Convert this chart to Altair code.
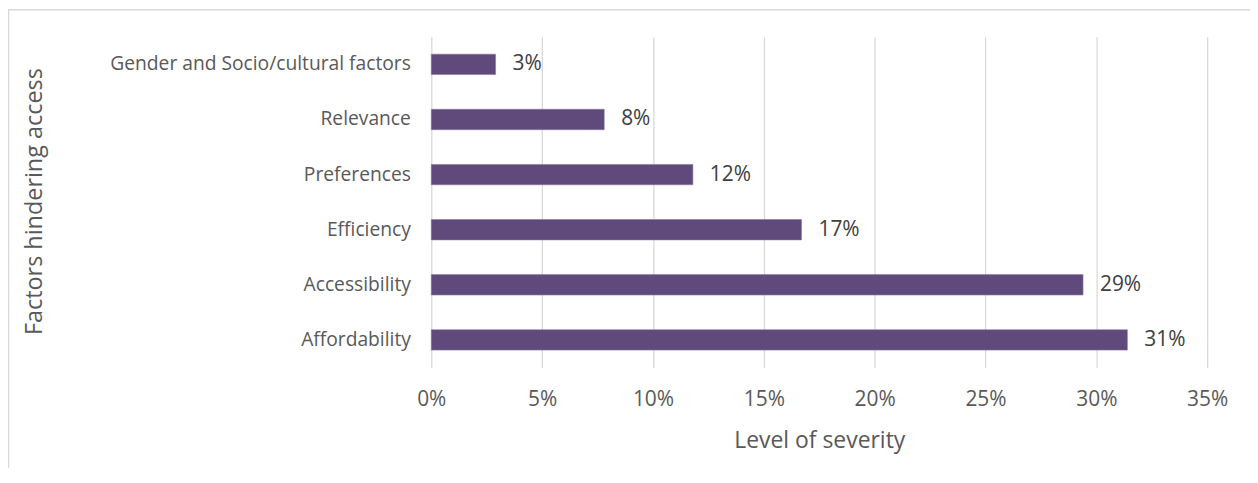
import altair as alt
import pandas as pd

categories = ["Gender and Socio/cultural factors", "Relevance", "Preferences",
              "Efficiency", "Accessibility", "Affordability"]
values = [0.029, 0.078, 0.118, 0.167, 0.294, 0.314]
x_ticks = [0, 0.05, 0.10, 0.15, 0.20, 0.25, 0.30, 0.35]

df = pd.DataFrame({"factor": categories, "value": values})

FONT = "Open Sans"
GREY = "#595959"
BAR = "#604A7B"

base = alt.Chart(df)

bars = base.mark_bar(color=BAR, stroke="#8a76a3", strokeWidth=0.6).encode(
    x=alt.X("value:Q",
            scale=alt.Scale(domain=[0, 0.35], nice=False),
            axis=alt.Axis(values=x_ticks, format=".0%", title="Level of severity",
                          domain=False, ticks=False, grid=True, labelFlush=False,
                          gridColor="#d9d9d9", gridWidth=1.3,
                          labelFont=FONT, labelFontSize=21, labelColor=GREY,
                          labelPadding=21,
                          titleFont=FONT, titleFontSize=23, titleFontWeight="normal",
                          titleColor=GREY, titlePadding=20)),
    y=alt.Y("factor:N", sort=categories,
            scale=alt.Scale(paddingInner=0.63, paddingOuter=0.315),
            axis=alt.Axis(title="Factors hindering access", domain=False, ticks=False,
                          grid=False, labelFont=FONT, labelFontSize=19.3, labelLimit=420,
                          labelColor=GREY, labelPadding=21,
                          titleFont=FONT, titleFontSize=23.5, titleFontWeight="normal",
                          titleColor=GREY, titleX=-398, titleY=165, titleAngle=270,
                          titleAlign="center", titleBaseline="middle")),
)

labels = base.mark_text(align="left", baseline="middle", dx=17, font=FONT,
                        fontSize=21, color="#404040").encode(
    x="value:Q",
    y=alt.Y("factor:N", sort=categories),
    text=alt.Text("value:Q", format=".0%"),
)

frame_data = alt.Data(values=[{}])
left_line = alt.Chart(frame_data).mark_rule(color="#d9d9d9", strokeWidth=1.5).encode(
    x=alt.value(-424.5), y=alt.value(-28), y2=alt.value(450))
top_line = alt.Chart(frame_data).mark_rule(color="#d9d9d9", strokeWidth=1.5).encode(
    y=alt.value(-27.2), x=alt.value(-425), x2=alt.value(830))

chart = alt.layer(left_line, top_line, bars, labels).properties(
    width=779, height=332,
    autosize=alt.AutoSizeParams(type="none"),
    padding={"left": 425, "top": 28, "right": 43, "bottom": 100},
).configure_view(stroke=None)

chart.save("out.html", embed_options={"renderer": "svg", "actions": False})
